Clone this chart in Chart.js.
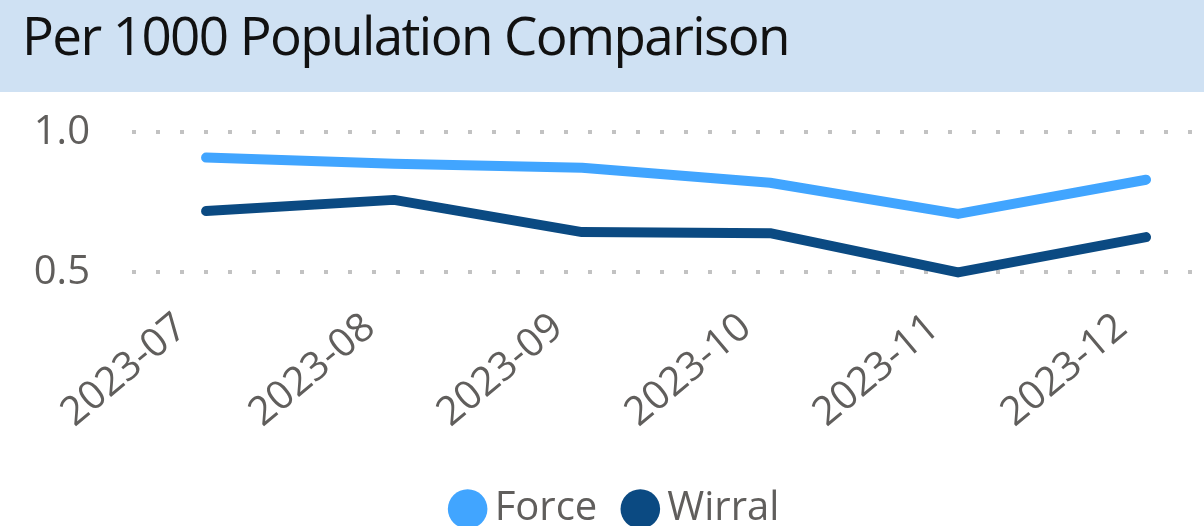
<!DOCTYPE html>
<html>
<head>
<meta charset="utf-8">
<script src="https://cdn.jsdelivr.net/npm/chart.js@4/dist/chart.umd.min.js"></script>
<style>
    html, body { margin: 0; padding: 0; background: #ffffff; overflow: hidden; }
    #title {
        width: 1204px;
        height: 92px;
        background: #cfe1f3;
        box-sizing: border-box;
        padding-left: 22px;
        font-family: "Open Sans", "Noto Sans", sans-serif;
        font-size: 53px;
        letter-spacing: -1.6px;
        line-height: 69px;
        color: #111111;
        white-space: nowrap;
    }
    /* canvas runs a bit past the window bottom so the legend can sit low */
    #wrap { width: 1204px; height: 447px; }
</style>
</head>
<body>
<div id="title">Per 1000 Population Comparison</div>
<div id="wrap"><canvas id="chart" width="1204" height="447"></canvas></div>
<script>
const months = ['2023-07', '2023-08', '2023-09', '2023-10', '2023-11', '2023-12'];
const force = [0.91, 0.888, 0.874, 0.82, 0.709, 0.831];
const wirral = [0.719, 0.759, 0.644, 0.64, 0.5, 0.626];
const yTicks = [0.5, 1.0];

const textGrey = '#605e5c';
const fontFamily = '"Open Sans", "Noto Sans", sans-serif';

function toPoints(values) {
    return values.map((v, i) => ({x: i, y: v}));
}

const ctx = document.getElementById('chart').getContext('2d');
const chart = new Chart(ctx, {
    type: 'line',
    data: {
        datasets: [
            {
                label: 'Force',
                data: toPoints(force),
                borderColor: '#41a5ff',
                backgroundColor: '#41a5ff',
                borderWidth: 10,
                borderCapStyle: 'round',
                borderJoinStyle: 'round',
                pointRadius: 0,
                tension: 0
            },
            {
                label: 'Wirral',
                data: toPoints(wirral),
                borderColor: '#0b4a82',
                backgroundColor: '#0b4a82',
                borderWidth: 10,
                borderCapStyle: 'round',
                borderJoinStyle: 'round',
                pointRadius: 0,
                tension: 0
            }
        ]
    },
    options: {
        responsive: false,
        animation: false,
        layout: { padding: { top: 18, right: 4, left: 0, bottom: 0 } },
        scales: {
            x: {
                type: 'linear',
                min: -0.394,
                max: 5.287,
                afterBuildTicks: (axis) => {
                    axis.ticks = months.map((m, i) => ({value: i}));
                },
                afterFit: (axis) => {
                    axis.height = 161;
                    axis.paddingLeft = 0;
                    axis.paddingRight = 0;
                },
                grid: { display: false },
                border: { display: false },
                ticks: {
                    color: textGrey,
                    font: { family: fontFamily, size: 40 },
                    minRotation: 40,
                    maxRotation: 40,
                    padding: 4,
                    labelOffset: -24,
                    callback: (value) => months[value]
                }
            },
            y: {
                min: 0.43,
                max: 1.08,
                afterBuildTicks: (axis) => {
                    axis.ticks = yTicks.map(v => ({value: v}));
                },
                afterFit: (axis) => {
                    axis.width = 132;
                    axis.paddingTop = 0;
                    axis.paddingBottom = 0;
                },
                border: { display: false, dash: [4, 20] },
                grid: {
                    color: '#c2c2c2',
                    lineWidth: 4,
                    drawTicks: false
                },
                ticks: {
                    color: textGrey,
                    font: { family: fontFamily, size: 40 },
                    padding: 42,
                    callback: (value) => value.toFixed(1)
                }
            }
        },
        plugins: {
            title: { display: false },
            tooltip: { enabled: false },
            legend: {
                position: 'bottom',
                labels: {
                    color: textGrey,
                    font: { family: fontFamily, size: 40 },
                    usePointStyle: true,
                    pointStyle: 'circle',
                    boxWidth: 14,
                    boxHeight: 28,
                    padding: 36,
                    generateLabels: (c) => {
                        const items = Chart.defaults.plugins.legend.labels.generateLabels(c);
                        items.forEach(it => { it.lineWidth = 0; it.pointStyle = 'circle'; });
                        return items;
                    }
                }
            }
        }
    },
    plugins: [{
        // nudge the legend a little right, it sits off-centre in the original
        id: 'legendNudge',
        afterLayout: (c) => {
            c.legend.left += 20;
            c.legend.right += 20;
        }
    }]
});
</script>
</body>
</html>
